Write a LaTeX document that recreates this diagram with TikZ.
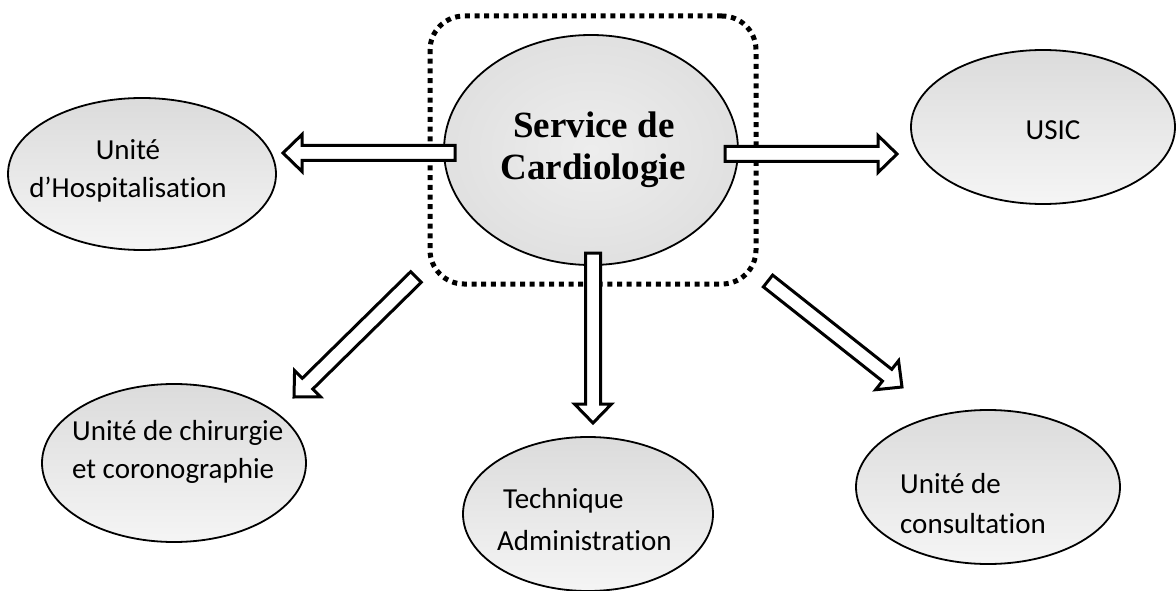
\documentclass[tikz,border=0pt]{standalone}
\usepackage{fontspec}
\setmainfont{Carlito}[Ligatures=NoCommon]
\newfontfamily\titlefont{Liberation Serif}
\usetikzlibrary{calc,shapes.geometric}

\tikzset{
  unit/.style={ellipse, draw, line width=1.8pt, inner sep=0pt,
    top color=black!14, bottom color=black!4},
  hub/.style={ellipse, draw, line width=1.8pt, inner sep=0pt,
    inner color=black!7, outer color=black!12},
  unitlabel/.style={inner sep=0pt, font=\fontsize{29}{35}\selectfont},
  hublabel/.style={inner sep=0pt, font=\titlefont\bfseries\fontsize{37}{42}\selectfont},
  blockarrow/.style={draw, fill=white, line width=3pt, line join=miter},
  dotframe/.style={draw, line width=5pt, dash pattern=on 5pt off 4.7pt,
    rounded corners=34pt, rectangle, inner sep=0pt},
}

% hollow block arrow from #1 to #2 (tip at #2)
\newcommand\blockarrow[2]{%
  \coordinate (ba-base) at ($(#2)!19pt!(#1)$);
  \draw[blockarrow]
    ($(#1)!7.5pt!90:(#2)$) -- ($(ba-base)!7.5pt!-90:(#1)$)
    -- ($(ba-base)!18.5pt!-90:(#1)$) -- (#2)
    -- ($(ba-base)!18.5pt!90:(#1)$) -- ($(ba-base)!7.5pt!90:(#1)$)
    -- ($(#1)!7.5pt!-90:(#2)$) -- cycle;}

\begin{document}
\begin{tikzpicture}[x=1pt, y=-1pt]
\useasboundingbox (0,0) rectangle (1176,591);

% dotted frame around the central service
\node[dotframe, minimum width=326pt, minimum height=268pt] (frame) at (593,150) {};

% ellipses
\node[hub, minimum width=294pt, minimum height=230pt] (hub) at (591,150) {};
\node[unit, minimum width=268pt, minimum height=152pt] (hosp) at (142,174) {};
\node[unit, minimum width=264pt, minimum height=154pt] (usic) at (1043,127) {};
\node[unit, minimum width=264pt, minimum height=158pt] (chir) at (174,463) {};
\node[unit, minimum width=250pt, minimum height=154pt] (tech) at (588,514) {};
\node[unit, minimum width=264pt, minimum height=154pt] (cons) at (988,487) {};

% labels
\node[hublabel, anchor=base] (hub-l1) at (594,138) {Service de};
\node[hublabel, anchor=base] (hub-l2) at (593,180) {Cardiologie};
\node[unitlabel, anchor=base] (hosp-l1) at (128,160) {Unité};
\node[unitlabel, anchor=base] (hosp-l2) at (128,197) {d’Hospitalisation};
\node[unitlabel, anchor=base] (usic-l1) at (1053,140) {USIC};
\node[unitlabel, anchor=base west] (chir-l1) at (72,440) {Unité de chirurgie};
\node[unitlabel, anchor=base west] (chir-l2) at (72,478) {et coronographie};
\node[unitlabel, anchor=base west] (tech-l1) at (503,508) {Technique};
\node[unitlabel, anchor=base west] (tech-l2) at (497,550) {Administration};
\node[unitlabel, anchor=base west] (cons-l1) at (900,493) {Unité de};
\node[unitlabel, anchor=base west] (cons-l2) at (900,533) {consultation};

% arrow end points
\coordinate (toHosp-s) at (455,153);
\coordinate (toHosp-e) at (283,153);
\coordinate (toUsic-s) at (725,154);
\coordinate (toUsic-e) at (897,154);
\coordinate (toTech-s) at (593,253);
\coordinate (toTech-e) at (593,423);
\coordinate (toChir-s) at (416,277);
\coordinate (toChir-e) at (294,397);
\coordinate (toCons-s) at (768,281);
\coordinate (toCons-e) at (902,387);

\blockarrow{toHosp-s}{toHosp-e}
\blockarrow{toUsic-s}{toUsic-e}
\blockarrow{toTech-s}{toTech-e}
\blockarrow{toChir-s}{toChir-e}
\blockarrow{toCons-s}{toCons-e}
\end{tikzpicture}
\end{document}
